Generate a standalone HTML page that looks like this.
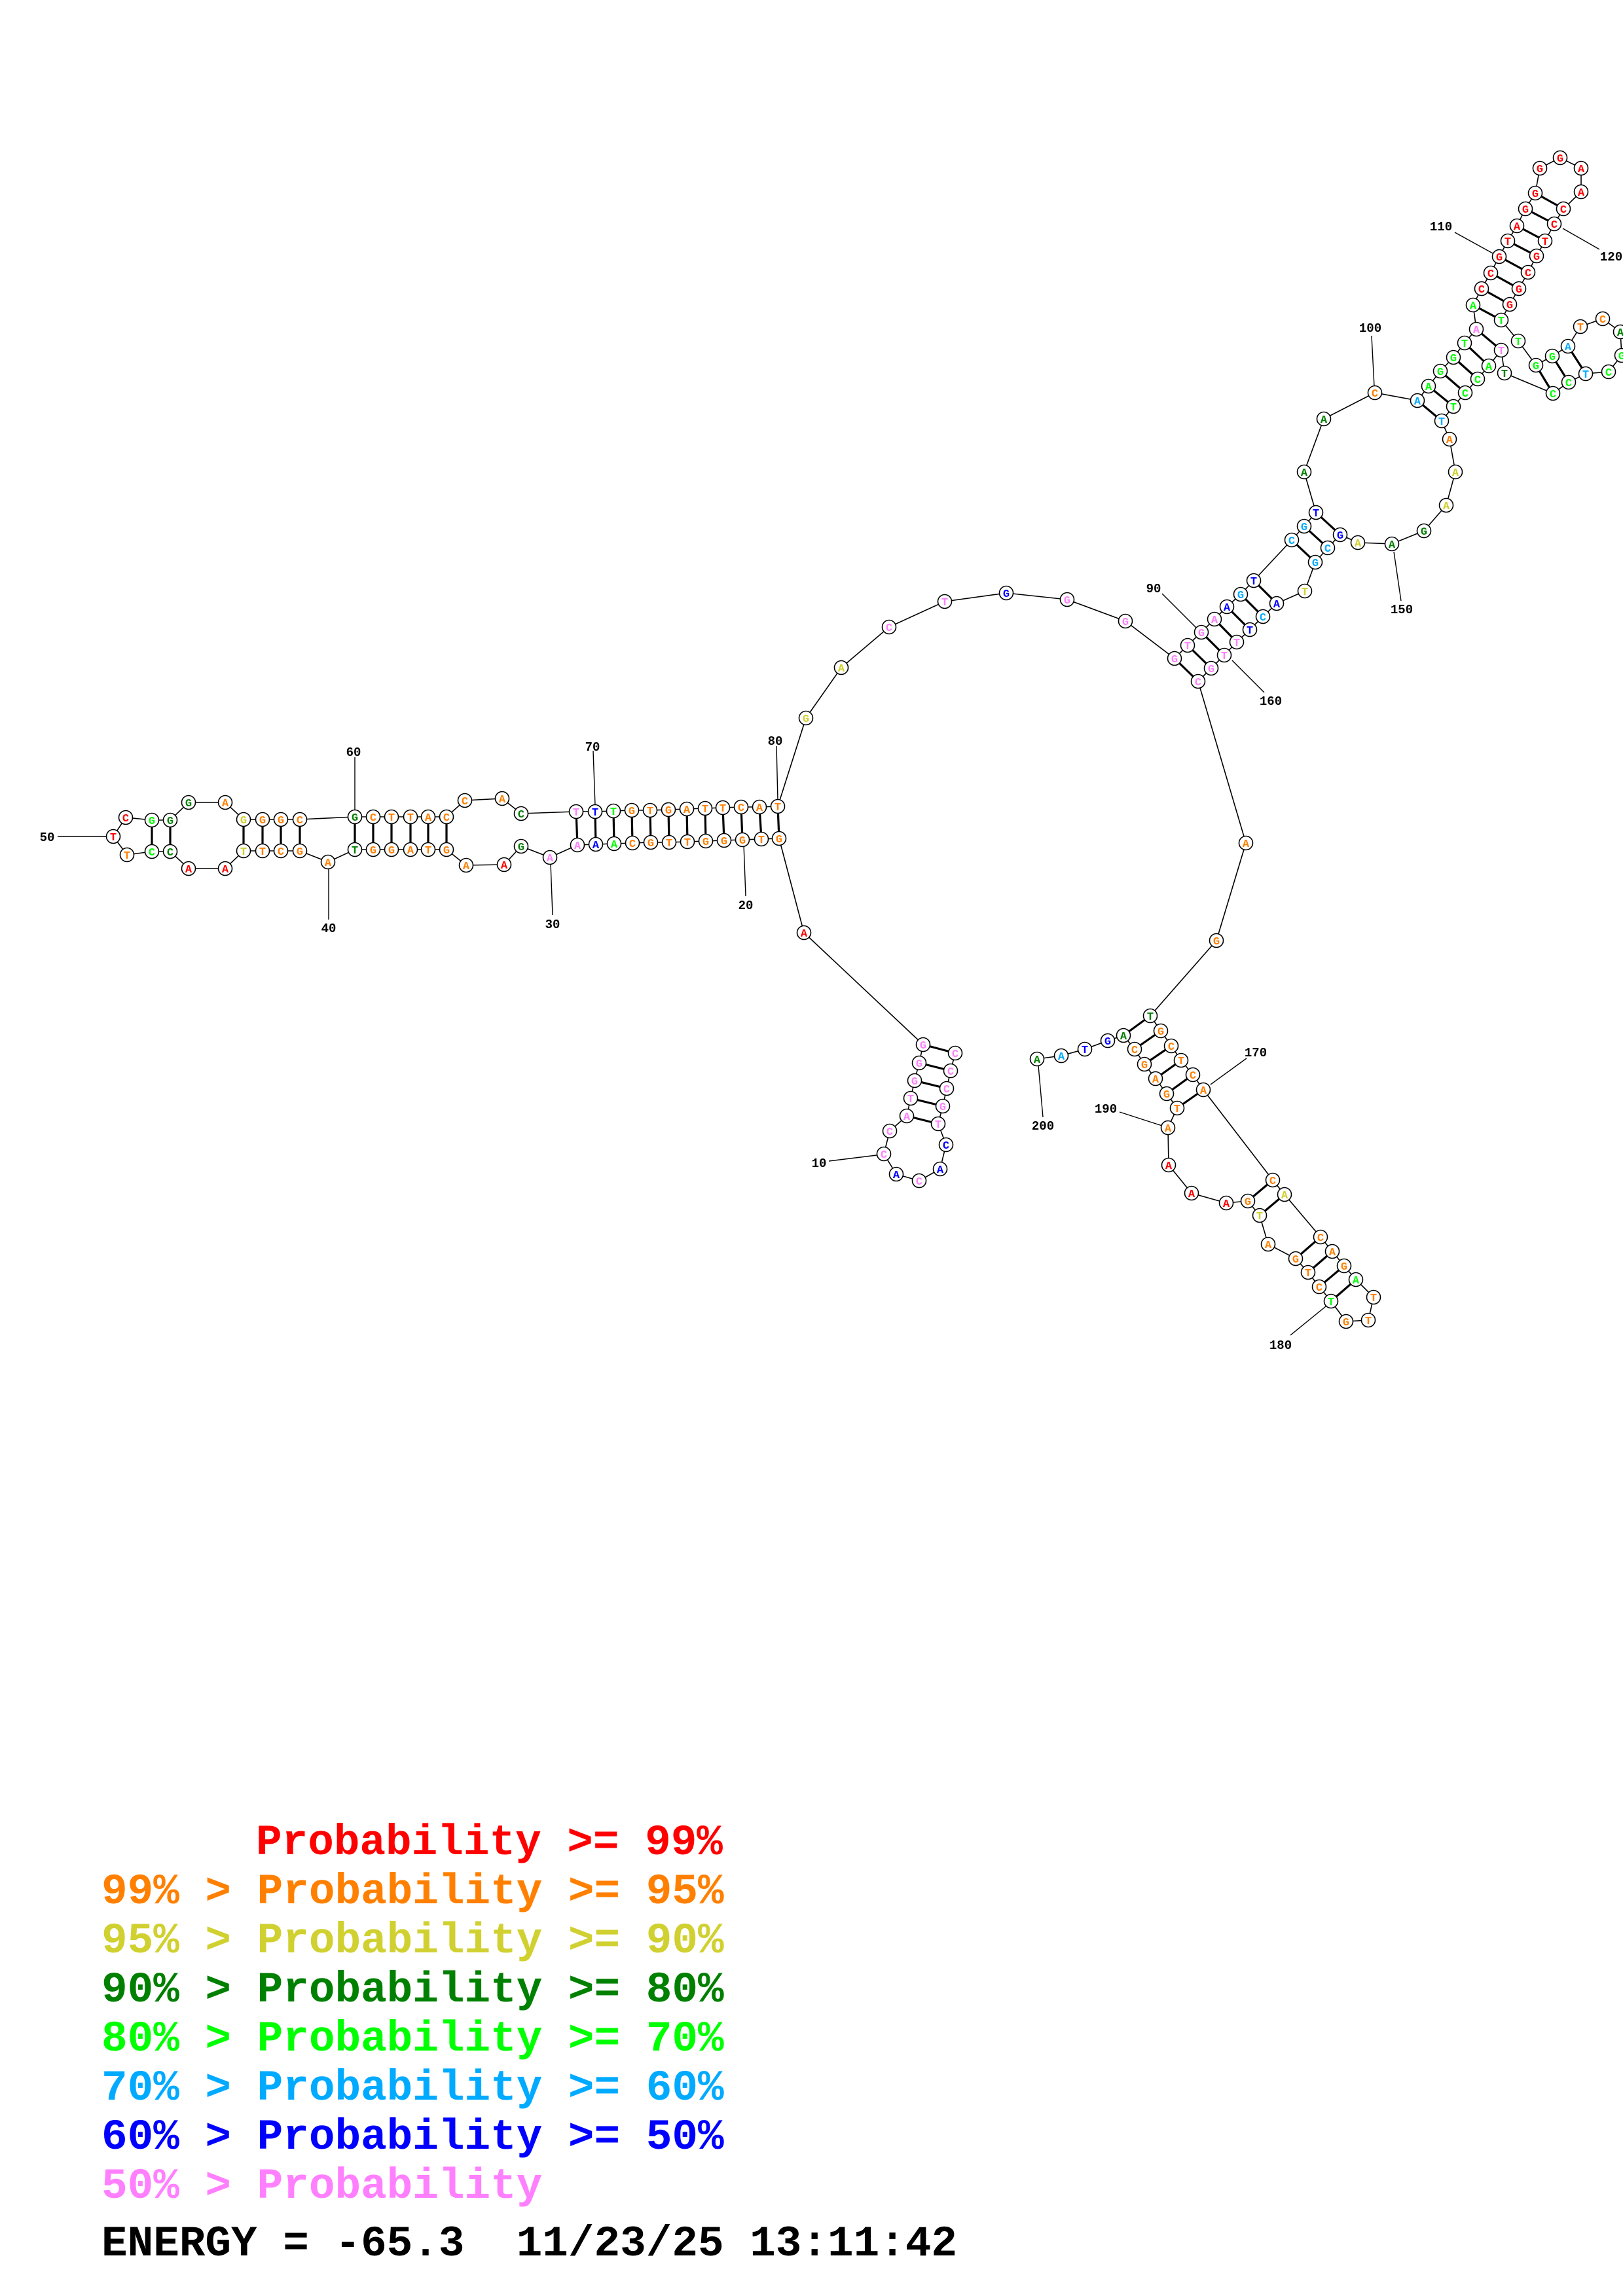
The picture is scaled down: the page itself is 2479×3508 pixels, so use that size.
<!DOCTYPE html>
<html><head><meta charset="utf-8"><style>
html,body{margin:0;padding:0;background:#fff}
svg{display:block}
.bb{fill:none;stroke:#000;stroke-width:1.6}
.pr{stroke:#000;stroke-width:3.2}
.lb{stroke:#000;stroke-width:1.4}
circle{fill:#fff;stroke:#000;stroke-width:1.6}
.n text{font-family:"Liberation Mono",monospace;font-weight:bold;font-size:17px;text-anchor:middle}
.num{font-family:"Liberation Mono",monospace;font-weight:bold;font-size:19px;text-anchor:middle;fill:#000}
.lg{font-family:"Liberation Mono",monospace;font-weight:bold;font-size:66px;white-space:pre}
.R{fill:#ff0000}.O{fill:#ff8000}.Y{fill:#d0d030}.D{fill:#008000}.G{fill:#00ff00}.S{fill:#00aaff}.B{fill:#0000ff}.P{fill:#ff80ff}.K{fill:#000}
</style></head><body>
<svg width="2479" height="3508" viewBox="0 0 2479 3508" xmlns="http://www.w3.org/2000/svg">
<polyline class="bb" points="1459,1609 1452,1636 1446,1663 1440,1690 1433,1717 1445,1749 1436,1786 1404,1804 1369,1794 1350,1763 1359,1728 1385,1705 1391,1678 1397,1651 1404,1624 1410,1596 1228,1425 1190,1281 1163,1282 1134,1283 1106,1284 1078,1285 1050,1286 1022,1287 994,1287 966,1288 938,1289 910,1290 882,1291 840,1310 796,1293 770,1321 712,1322 682,1298 654,1298 627,1298 598,1298 570,1298 542,1298 501,1317 458,1300 429,1300 401,1300 372,1300 344,1327 288,1327 260,1301 232,1301 194,1306 173,1278 192,1249 232,1253 260,1253 288,1226 344,1226 372,1252 401,1252 429,1252 458,1252 542,1248 570,1248 598,1248 627,1248 654,1248 682,1248 710,1223 767,1220 796,1243 880,1240 909,1240 937,1239 965,1238 993,1238 1021,1237 1049,1236 1077,1235 1104,1234 1132,1233 1160,1233 1188,1232 1231,1097 1285,1020 1358,958 1443,919 1537,906 1630,916 1719,949 1794,1006 1814,986 1835,966 1855,946 1874,927 1895,908 1915,887 1973,825 1992,804 2010,783 1992,721 2022,640 2100,600 2165,612 2182,590 2200,567 2220,546 2237,524 2255,503 2250,466 2263,441 2277,417 2290,392 2303,368 2317,345 2330,319 2345,295 2352,257 2383,241 2415,257 2415,293 2388,319 2374,342 2360,368 2347,391 2334,416 2320,441 2306,465 2293,489 2319,521 2346,558 2371,544 2395,529 2414,499 2448,487 2475,507 2477,543 2457,568 2422,571 2396,584 2372,601 2298,570 2293,535 2274,559 2257,579 2238,600 2220,621 2202,643 2214,671 2223,721 2209,772 2175,811 2126,831 2074,829 2047,817 2028,837 2009,859 1993,903 1950,922 1929,942 1909,962 1889,981 1870,1001 1850,1021 1830,1041 1903,1288 1858,1437 1757,1552 1773,1575 1789,1598 1804,1620 1822,1642 1838,1665 1944,1803 1962,1825 2017,1890 2035,1912 2053,1934 2071,1955 2098,1982 2090,2017 2056,2019 2033,1988 2015,1966 1998,1944 1979,1923 1937,1901 1924,1857 1906,1835 1873,1838 1820,1823 1785,1780 1784,1723 1798,1693 1782,1671 1765,1648 1748,1626 1733,1603 1716,1582 1692,1590 1657,1603 1621,1613 1584,1618"/>
<g class="pr">
<line x1="1410" y1="1596" x2="1459" y2="1609"/><line x1="1404" y1="1624" x2="1452" y2="1636"/><line x1="1397" y1="1651" x2="1446" y2="1663"/><line x1="1391" y1="1678" x2="1440" y2="1690"/><line x1="1385" y1="1705" x2="1433" y2="1717"/>
<line x1="232" y1="1253" x2="232" y2="1301"/><line x1="260" y1="1253" x2="260" y2="1301"/>
<line x1="372" y1="1252" x2="372" y2="1300"/><line x1="401" y1="1252" x2="401" y2="1300"/><line x1="429" y1="1252" x2="429" y2="1300"/><line x1="458" y1="1252" x2="458" y2="1300"/>
<line x1="542" y1="1248" x2="542" y2="1298"/><line x1="570" y1="1248" x2="570" y2="1298"/><line x1="598" y1="1248" x2="598" y2="1298"/><line x1="627" y1="1248" x2="627" y2="1298"/><line x1="654" y1="1248" x2="654" y2="1298"/><line x1="682" y1="1248" x2="682" y2="1298"/>
<line x1="880" y1="1240" x2="882" y2="1291"/><line x1="909" y1="1240" x2="910" y2="1290"/><line x1="937" y1="1239" x2="938" y2="1289"/><line x1="965" y1="1238" x2="966" y2="1288"/><line x1="993" y1="1238" x2="994" y2="1287"/><line x1="1021" y1="1237" x2="1022" y2="1287"/><line x1="1049" y1="1236" x2="1050" y2="1286"/><line x1="1077" y1="1235" x2="1078" y2="1285"/><line x1="1104" y1="1234" x2="1106" y2="1284"/><line x1="1132" y1="1233" x2="1134" y2="1283"/><line x1="1160" y1="1233" x2="1163" y2="1282"/><line x1="1188" y1="1232" x2="1190" y2="1281"/>
<line x1="1794" y1="1006" x2="1830" y2="1041"/><line x1="1814" y1="986" x2="1850" y2="1021"/><line x1="1835" y1="966" x2="1870" y2="1001"/><line x1="1855" y1="946" x2="1889" y2="981"/><line x1="1874" y1="927" x2="1909" y2="962"/><line x1="1895" y1="908" x2="1929" y2="942"/><line x1="1915" y1="887" x2="1950" y2="922"/>
<line x1="1973" y1="825" x2="2009" y2="859"/><line x1="1992" y1="804" x2="2028" y2="837"/><line x1="2010" y1="783" x2="2047" y2="817"/>
<line x1="2165" y1="612" x2="2202" y2="643"/><line x1="2182" y1="590" x2="2220" y2="621"/><line x1="2200" y1="567" x2="2238" y2="600"/><line x1="2220" y1="546" x2="2257" y2="579"/><line x1="2237" y1="524" x2="2274" y2="559"/><line x1="2255" y1="503" x2="2293" y2="535"/>
<line x1="2250" y1="466" x2="2293" y2="489"/><line x1="2263" y1="441" x2="2306" y2="465"/><line x1="2277" y1="417" x2="2320" y2="441"/><line x1="2290" y1="392" x2="2334" y2="416"/><line x1="2303" y1="368" x2="2347" y2="391"/><line x1="2317" y1="345" x2="2360" y2="368"/><line x1="2330" y1="319" x2="2374" y2="342"/><line x1="2345" y1="295" x2="2388" y2="319"/>
<line x1="2346" y1="558" x2="2372" y2="601"/><line x1="2371" y1="544" x2="2396" y2="584"/><line x1="2395" y1="529" x2="2422" y2="571"/>
<line x1="1757" y1="1552" x2="1716" y2="1582"/><line x1="1773" y1="1575" x2="1733" y2="1603"/><line x1="1789" y1="1598" x2="1748" y2="1626"/><line x1="1804" y1="1620" x2="1765" y2="1648"/><line x1="1822" y1="1642" x2="1782" y2="1671"/><line x1="1838" y1="1665" x2="1798" y2="1693"/>
<line x1="1944" y1="1803" x2="1906" y2="1835"/><line x1="1962" y1="1825" x2="1924" y2="1857"/>
<line x1="2017" y1="1890" x2="1979" y2="1923"/><line x1="2035" y1="1912" x2="1998" y2="1944"/><line x1="2053" y1="1934" x2="2015" y2="1966"/><line x1="2071" y1="1955" x2="2033" y2="1988"/>
</g>
<g class="lb">
<line x1="1266" y1="1774" x2="1339" y2="1765"/>
<line x1="1136" y1="1290" x2="1139" y2="1369"/>
<line x1="841" y1="1318" x2="844" y2="1398"/>
<line x1="502" y1="1327" x2="502" y2="1405"/>
<line x1="88" y1="1278" x2="162" y2="1278"/>
<line x1="542" y1="1157" x2="542" y2="1238"/>
<line x1="906" y1="1147" x2="909" y2="1230"/>
<line x1="1186" y1="1140" x2="1188" y2="1222"/>
<line x1="1775" y1="907" x2="1828" y2="960"/>
<line x1="2095" y1="513" x2="2099" y2="590"/>
<line x1="2222" y1="355" x2="2280" y2="387"/>
<line x1="2387" y1="349" x2="2443" y2="381"/>
<line x1="2129" y1="843" x2="2140" y2="918"/>
<line x1="1882" y1="1009" x2="1931" y2="1058"/>
<line x1="1849" y1="1657" x2="1904" y2="1617"/>
<line x1="1971" y1="2040" x2="2025" y2="1996"/>
<line x1="1710" y1="1699" x2="1775" y2="1720"/>
<line x1="1586" y1="1628" x2="1593" y2="1707"/>
</g>
<g>
<text class="num" x="1251" y="1783">10</text>
<text class="num" x="1139" y="1389">20</text>
<text class="num" x="844" y="1418">30</text>
<text class="num" x="502" y="1424">40</text>
<text class="num" x="72" y="1285">50</text>
<text class="num" x="540" y="1155">60</text>
<text class="num" x="905" y="1147">70</text>
<text class="num" x="1184" y="1138">80</text>
<text class="num" x="1762" y="905">90</text>
<text class="num" x="2093" y="507">100</text>
<text class="num" x="2201" y="352">110</text>
<text class="num" x="2461" y="398">120</text>
<text class="num" x="2141" y="937">150</text>
<text class="num" x="1941" y="1077">160</text>
<text class="num" x="1918" y="1614">170</text>
<text class="num" x="1956" y="2061">180</text>
<text class="num" x="1689" y="1700">190</text>
<text class="num" x="1593" y="1726">200</text>
</g>
<g class="n">
<circle cx="1459" cy="1609" r="10.5"/><text x="1459" y="1615" class="P">C</text>
<circle cx="1452" cy="1636" r="10.5"/><text x="1452" y="1642" class="P">C</text>
<circle cx="1446" cy="1663" r="10.5"/><text x="1446" y="1669" class="P">C</text>
<circle cx="1440" cy="1690" r="10.5"/><text x="1440" y="1696" class="P">G</text>
<circle cx="1433" cy="1717" r="10.5"/><text x="1433" y="1723" class="P">T</text>
<circle cx="1445" cy="1749" r="10.5"/><text x="1445" y="1755" class="B">C</text>
<circle cx="1436" cy="1786" r="10.5"/><text x="1436" y="1792" class="B">A</text>
<circle cx="1404" cy="1804" r="10.5"/><text x="1404" y="1810" class="P">C</text>
<circle cx="1369" cy="1794" r="10.5"/><text x="1369" y="1800" class="B">A</text>
<circle cx="1350" cy="1763" r="10.5"/><text x="1350" y="1769" class="P">C</text>
<circle cx="1359" cy="1728" r="10.5"/><text x="1359" y="1734" class="P">C</text>
<circle cx="1385" cy="1705" r="10.5"/><text x="1385" y="1711" class="P">A</text>
<circle cx="1391" cy="1678" r="10.5"/><text x="1391" y="1684" class="P">T</text>
<circle cx="1397" cy="1651" r="10.5"/><text x="1397" y="1657" class="P">G</text>
<circle cx="1404" cy="1624" r="10.5"/><text x="1404" y="1630" class="P">G</text>
<circle cx="1410" cy="1596" r="10.5"/><text x="1410" y="1602" class="P">G</text>
<circle cx="1228" cy="1425" r="10.5"/><text x="1228" y="1431" class="R">A</text>
<circle cx="1190" cy="1281" r="10.5"/><text x="1190" y="1287" class="O">G</text>
<circle cx="1163" cy="1282" r="10.5"/><text x="1163" y="1288" class="O">T</text>
<circle cx="1134" cy="1283" r="10.5"/><text x="1134" y="1289" class="O">G</text>
<circle cx="1106" cy="1284" r="10.5"/><text x="1106" y="1290" class="O">G</text>
<circle cx="1078" cy="1285" r="10.5"/><text x="1078" y="1291" class="O">G</text>
<circle cx="1050" cy="1286" r="10.5"/><text x="1050" y="1292" class="O">T</text>
<circle cx="1022" cy="1287" r="10.5"/><text x="1022" y="1293" class="O">T</text>
<circle cx="994" cy="1287" r="10.5"/><text x="994" y="1293" class="O">G</text>
<circle cx="966" cy="1288" r="10.5"/><text x="966" y="1294" class="O">C</text>
<circle cx="938" cy="1289" r="10.5"/><text x="938" y="1295" class="G">A</text>
<circle cx="910" cy="1290" r="10.5"/><text x="910" y="1296" class="B">A</text>
<circle cx="882" cy="1291" r="10.5"/><text x="882" y="1297" class="P">A</text>
<circle cx="840" cy="1310" r="10.5"/><text x="840" y="1316" class="P">A</text>
<circle cx="796" cy="1293" r="10.5"/><text x="796" y="1299" class="D">G</text>
<circle cx="770" cy="1321" r="10.5"/><text x="770" y="1327" class="R">A</text>
<circle cx="712" cy="1322" r="10.5"/><text x="712" y="1328" class="O">A</text>
<circle cx="682" cy="1298" r="10.5"/><text x="682" y="1304" class="O">G</text>
<circle cx="654" cy="1298" r="10.5"/><text x="654" y="1304" class="O">T</text>
<circle cx="627" cy="1298" r="10.5"/><text x="627" y="1304" class="O">A</text>
<circle cx="598" cy="1298" r="10.5"/><text x="598" y="1304" class="O">G</text>
<circle cx="570" cy="1298" r="10.5"/><text x="570" y="1304" class="O">G</text>
<circle cx="542" cy="1298" r="10.5"/><text x="542" y="1304" class="D">T</text>
<circle cx="501" cy="1317" r="10.5"/><text x="501" y="1323" class="O">A</text>
<circle cx="458" cy="1300" r="10.5"/><text x="458" y="1306" class="O">G</text>
<circle cx="429" cy="1300" r="10.5"/><text x="429" y="1306" class="O">C</text>
<circle cx="401" cy="1300" r="10.5"/><text x="401" y="1306" class="O">T</text>
<circle cx="372" cy="1300" r="10.5"/><text x="372" y="1306" class="Y">T</text>
<circle cx="344" cy="1327" r="10.5"/><text x="344" y="1333" class="R">A</text>
<circle cx="288" cy="1327" r="10.5"/><text x="288" y="1333" class="R">A</text>
<circle cx="260" cy="1301" r="10.5"/><text x="260" y="1307" class="D">C</text>
<circle cx="232" cy="1301" r="10.5"/><text x="232" y="1307" class="G">C</text>
<circle cx="194" cy="1306" r="10.5"/><text x="194" y="1312" class="O">T</text>
<circle cx="173" cy="1278" r="10.5"/><text x="173" y="1284" class="R">T</text>
<circle cx="192" cy="1249" r="10.5"/><text x="192" y="1255" class="R">C</text>
<circle cx="232" cy="1253" r="10.5"/><text x="232" y="1259" class="G">G</text>
<circle cx="260" cy="1253" r="10.5"/><text x="260" y="1259" class="D">G</text>
<circle cx="288" cy="1226" r="10.5"/><text x="288" y="1232" class="D">G</text>
<circle cx="344" cy="1226" r="10.5"/><text x="344" y="1232" class="O">A</text>
<circle cx="372" cy="1252" r="10.5"/><text x="372" y="1258" class="Y">G</text>
<circle cx="401" cy="1252" r="10.5"/><text x="401" y="1258" class="O">G</text>
<circle cx="429" cy="1252" r="10.5"/><text x="429" y="1258" class="O">G</text>
<circle cx="458" cy="1252" r="10.5"/><text x="458" y="1258" class="O">C</text>
<circle cx="542" cy="1248" r="10.5"/><text x="542" y="1254" class="D">G</text>
<circle cx="570" cy="1248" r="10.5"/><text x="570" y="1254" class="O">C</text>
<circle cx="598" cy="1248" r="10.5"/><text x="598" y="1254" class="O">T</text>
<circle cx="627" cy="1248" r="10.5"/><text x="627" y="1254" class="O">T</text>
<circle cx="654" cy="1248" r="10.5"/><text x="654" y="1254" class="O">A</text>
<circle cx="682" cy="1248" r="10.5"/><text x="682" y="1254" class="O">C</text>
<circle cx="710" cy="1223" r="10.5"/><text x="710" y="1229" class="O">C</text>
<circle cx="767" cy="1220" r="10.5"/><text x="767" y="1226" class="O">A</text>
<circle cx="796" cy="1243" r="10.5"/><text x="796" y="1249" class="D">C</text>
<circle cx="880" cy="1240" r="10.5"/><text x="880" y="1246" class="P">T</text>
<circle cx="909" cy="1240" r="10.5"/><text x="909" y="1246" class="B">T</text>
<circle cx="937" cy="1239" r="10.5"/><text x="937" y="1245" class="G">T</text>
<circle cx="965" cy="1238" r="10.5"/><text x="965" y="1244" class="O">G</text>
<circle cx="993" cy="1238" r="10.5"/><text x="993" y="1244" class="O">T</text>
<circle cx="1021" cy="1237" r="10.5"/><text x="1021" y="1243" class="O">G</text>
<circle cx="1049" cy="1236" r="10.5"/><text x="1049" y="1242" class="O">A</text>
<circle cx="1077" cy="1235" r="10.5"/><text x="1077" y="1241" class="O">T</text>
<circle cx="1104" cy="1234" r="10.5"/><text x="1104" y="1240" class="O">T</text>
<circle cx="1132" cy="1233" r="10.5"/><text x="1132" y="1239" class="O">C</text>
<circle cx="1160" cy="1233" r="10.5"/><text x="1160" y="1239" class="O">A</text>
<circle cx="1188" cy="1232" r="10.5"/><text x="1188" y="1238" class="O">T</text>
<circle cx="1231" cy="1097" r="10.5"/><text x="1231" y="1103" class="Y">G</text>
<circle cx="1285" cy="1020" r="10.5"/><text x="1285" y="1026" class="Y">A</text>
<circle cx="1358" cy="958" r="10.5"/><text x="1358" y="964" class="P">C</text>
<circle cx="1443" cy="919" r="10.5"/><text x="1443" y="925" class="P">T</text>
<circle cx="1537" cy="906" r="10.5"/><text x="1537" y="912" class="B">G</text>
<circle cx="1630" cy="916" r="10.5"/><text x="1630" y="922" class="P">G</text>
<circle cx="1719" cy="949" r="10.5"/><text x="1719" y="955" class="P">G</text>
<circle cx="1794" cy="1006" r="10.5"/><text x="1794" y="1012" class="P">G</text>
<circle cx="1814" cy="986" r="10.5"/><text x="1814" y="992" class="P">T</text>
<circle cx="1835" cy="966" r="10.5"/><text x="1835" y="972" class="P">G</text>
<circle cx="1855" cy="946" r="10.5"/><text x="1855" y="952" class="P">A</text>
<circle cx="1874" cy="927" r="10.5"/><text x="1874" y="933" class="B">A</text>
<circle cx="1895" cy="908" r="10.5"/><text x="1895" y="914" class="S">G</text>
<circle cx="1915" cy="887" r="10.5"/><text x="1915" y="893" class="B">T</text>
<circle cx="1973" cy="825" r="10.5"/><text x="1973" y="831" class="S">C</text>
<circle cx="1992" cy="804" r="10.5"/><text x="1992" y="810" class="S">G</text>
<circle cx="2010" cy="783" r="10.5"/><text x="2010" y="789" class="B">T</text>
<circle cx="1992" cy="721" r="10.5"/><text x="1992" y="727" class="D">A</text>
<circle cx="2022" cy="640" r="10.5"/><text x="2022" y="646" class="D">A</text>
<circle cx="2100" cy="600" r="10.5"/><text x="2100" y="606" class="O">C</text>
<circle cx="2165" cy="612" r="10.5"/><text x="2165" y="618" class="S">A</text>
<circle cx="2182" cy="590" r="10.5"/><text x="2182" y="596" class="G">A</text>
<circle cx="2200" cy="567" r="10.5"/><text x="2200" y="573" class="G">G</text>
<circle cx="2220" cy="546" r="10.5"/><text x="2220" y="552" class="G">G</text>
<circle cx="2237" cy="524" r="10.5"/><text x="2237" y="530" class="G">T</text>
<circle cx="2255" cy="503" r="10.5"/><text x="2255" y="509" class="P">A</text>
<circle cx="2250" cy="466" r="10.5"/><text x="2250" y="472" class="G">A</text>
<circle cx="2263" cy="441" r="10.5"/><text x="2263" y="447" class="R">C</text>
<circle cx="2277" cy="417" r="10.5"/><text x="2277" y="423" class="R">C</text>
<circle cx="2290" cy="392" r="10.5"/><text x="2290" y="398" class="R">G</text>
<circle cx="2303" cy="368" r="10.5"/><text x="2303" y="374" class="R">T</text>
<circle cx="2317" cy="345" r="10.5"/><text x="2317" y="351" class="R">A</text>
<circle cx="2330" cy="319" r="10.5"/><text x="2330" y="325" class="R">G</text>
<circle cx="2345" cy="295" r="10.5"/><text x="2345" y="301" class="R">G</text>
<circle cx="2352" cy="257" r="10.5"/><text x="2352" y="263" class="R">G</text>
<circle cx="2383" cy="241" r="10.5"/><text x="2383" y="247" class="R">G</text>
<circle cx="2415" cy="257" r="10.5"/><text x="2415" y="263" class="R">A</text>
<circle cx="2415" cy="293" r="10.5"/><text x="2415" y="299" class="R">A</text>
<circle cx="2388" cy="319" r="10.5"/><text x="2388" y="325" class="R">C</text>
<circle cx="2374" cy="342" r="10.5"/><text x="2374" y="348" class="R">C</text>
<circle cx="2360" cy="368" r="10.5"/><text x="2360" y="374" class="R">T</text>
<circle cx="2347" cy="391" r="10.5"/><text x="2347" y="397" class="R">G</text>
<circle cx="2334" cy="416" r="10.5"/><text x="2334" y="422" class="R">C</text>
<circle cx="2320" cy="441" r="10.5"/><text x="2320" y="447" class="R">G</text>
<circle cx="2306" cy="465" r="10.5"/><text x="2306" y="471" class="R">G</text>
<circle cx="2293" cy="489" r="10.5"/><text x="2293" y="495" class="G">T</text>
<circle cx="2319" cy="521" r="10.5"/><text x="2319" y="527" class="G">T</text>
<circle cx="2346" cy="558" r="10.5"/><text x="2346" y="564" class="G">G</text>
<circle cx="2371" cy="544" r="10.5"/><text x="2371" y="550" class="G">G</text>
<circle cx="2395" cy="529" r="10.5"/><text x="2395" y="535" class="S">A</text>
<circle cx="2414" cy="499" r="10.5"/><text x="2414" y="505" class="O">T</text>
<circle cx="2448" cy="487" r="10.5"/><text x="2448" y="493" class="O">C</text>
<circle cx="2475" cy="507" r="10.5"/><text x="2475" y="513" class="D">A</text>
<circle cx="2477" cy="543" r="10.5"/><text x="2477" y="549" class="G">G</text>
<circle cx="2457" cy="568" r="10.5"/><text x="2457" y="574" class="G">C</text>
<circle cx="2422" cy="571" r="10.5"/><text x="2422" y="577" class="S">T</text>
<circle cx="2396" cy="584" r="10.5"/><text x="2396" y="590" class="G">C</text>
<circle cx="2372" cy="601" r="10.5"/><text x="2372" y="607" class="G">C</text>
<circle cx="2298" cy="570" r="10.5"/><text x="2298" y="576" class="D">T</text>
<circle cx="2293" cy="535" r="10.5"/><text x="2293" y="541" class="P">T</text>
<circle cx="2274" cy="559" r="10.5"/><text x="2274" y="565" class="G">A</text>
<circle cx="2257" cy="579" r="10.5"/><text x="2257" y="585" class="G">C</text>
<circle cx="2238" cy="600" r="10.5"/><text x="2238" y="606" class="G">C</text>
<circle cx="2220" cy="621" r="10.5"/><text x="2220" y="627" class="G">T</text>
<circle cx="2202" cy="643" r="10.5"/><text x="2202" y="649" class="S">T</text>
<circle cx="2214" cy="671" r="10.5"/><text x="2214" y="677" class="O">A</text>
<circle cx="2223" cy="721" r="10.5"/><text x="2223" y="727" class="Y">A</text>
<circle cx="2209" cy="772" r="10.5"/><text x="2209" y="778" class="Y">A</text>
<circle cx="2175" cy="811" r="10.5"/><text x="2175" y="817" class="D">G</text>
<circle cx="2126" cy="831" r="10.5"/><text x="2126" y="837" class="D">A</text>
<circle cx="2074" cy="829" r="10.5"/><text x="2074" y="835" class="Y">A</text>
<circle cx="2047" cy="817" r="10.5"/><text x="2047" y="823" class="B">G</text>
<circle cx="2028" cy="837" r="10.5"/><text x="2028" y="843" class="S">C</text>
<circle cx="2009" cy="859" r="10.5"/><text x="2009" y="865" class="S">G</text>
<circle cx="1993" cy="903" r="10.5"/><text x="1993" y="909" class="Y">T</text>
<circle cx="1950" cy="922" r="10.5"/><text x="1950" y="928" class="B">A</text>
<circle cx="1929" cy="942" r="10.5"/><text x="1929" y="948" class="S">C</text>
<circle cx="1909" cy="962" r="10.5"/><text x="1909" y="968" class="B">T</text>
<circle cx="1889" cy="981" r="10.5"/><text x="1889" y="987" class="P">T</text>
<circle cx="1870" cy="1001" r="10.5"/><text x="1870" y="1007" class="P">T</text>
<circle cx="1850" cy="1021" r="10.5"/><text x="1850" y="1027" class="P">G</text>
<circle cx="1830" cy="1041" r="10.5"/><text x="1830" y="1047" class="P">C</text>
<circle cx="1903" cy="1288" r="10.5"/><text x="1903" y="1294" class="O">A</text>
<circle cx="1858" cy="1437" r="10.5"/><text x="1858" y="1443" class="O">G</text>
<circle cx="1757" cy="1552" r="10.5"/><text x="1757" y="1558" class="D">T</text>
<circle cx="1773" cy="1575" r="10.5"/><text x="1773" y="1581" class="O">G</text>
<circle cx="1789" cy="1598" r="10.5"/><text x="1789" y="1604" class="O">C</text>
<circle cx="1804" cy="1620" r="10.5"/><text x="1804" y="1626" class="O">T</text>
<circle cx="1822" cy="1642" r="10.5"/><text x="1822" y="1648" class="O">C</text>
<circle cx="1838" cy="1665" r="10.5"/><text x="1838" y="1671" class="O">A</text>
<circle cx="1944" cy="1803" r="10.5"/><text x="1944" y="1809" class="O">C</text>
<circle cx="1962" cy="1825" r="10.5"/><text x="1962" y="1831" class="Y">A</text>
<circle cx="2017" cy="1890" r="10.5"/><text x="2017" y="1896" class="O">C</text>
<circle cx="2035" cy="1912" r="10.5"/><text x="2035" y="1918" class="O">A</text>
<circle cx="2053" cy="1934" r="10.5"/><text x="2053" y="1940" class="O">G</text>
<circle cx="2071" cy="1955" r="10.5"/><text x="2071" y="1961" class="G">A</text>
<circle cx="2098" cy="1982" r="10.5"/><text x="2098" y="1988" class="O">T</text>
<circle cx="2090" cy="2017" r="10.5"/><text x="2090" y="2023" class="O">T</text>
<circle cx="2056" cy="2019" r="10.5"/><text x="2056" y="2025" class="O">G</text>
<circle cx="2033" cy="1988" r="10.5"/><text x="2033" y="1994" class="G">T</text>
<circle cx="2015" cy="1966" r="10.5"/><text x="2015" y="1972" class="O">C</text>
<circle cx="1998" cy="1944" r="10.5"/><text x="1998" y="1950" class="O">T</text>
<circle cx="1979" cy="1923" r="10.5"/><text x="1979" y="1929" class="O">G</text>
<circle cx="1937" cy="1901" r="10.5"/><text x="1937" y="1907" class="O">A</text>
<circle cx="1924" cy="1857" r="10.5"/><text x="1924" y="1863" class="Y">T</text>
<circle cx="1906" cy="1835" r="10.5"/><text x="1906" y="1841" class="O">G</text>
<circle cx="1873" cy="1838" r="10.5"/><text x="1873" y="1844" class="R">A</text>
<circle cx="1820" cy="1823" r="10.5"/><text x="1820" y="1829" class="R">A</text>
<circle cx="1785" cy="1780" r="10.5"/><text x="1785" y="1786" class="R">A</text>
<circle cx="1784" cy="1723" r="10.5"/><text x="1784" y="1729" class="O">A</text>
<circle cx="1798" cy="1693" r="10.5"/><text x="1798" y="1699" class="O">T</text>
<circle cx="1782" cy="1671" r="10.5"/><text x="1782" y="1677" class="O">G</text>
<circle cx="1765" cy="1648" r="10.5"/><text x="1765" y="1654" class="O">A</text>
<circle cx="1748" cy="1626" r="10.5"/><text x="1748" y="1632" class="O">G</text>
<circle cx="1733" cy="1603" r="10.5"/><text x="1733" y="1609" class="O">C</text>
<circle cx="1716" cy="1582" r="10.5"/><text x="1716" y="1588" class="D">A</text>
<circle cx="1692" cy="1590" r="10.5"/><text x="1692" y="1596" class="B">G</text>
<circle cx="1657" cy="1603" r="10.5"/><text x="1657" y="1609" class="B">T</text>
<circle cx="1621" cy="1613" r="10.5"/><text x="1621" y="1619" class="S">A</text>
<circle cx="1584" cy="1618" r="10.5"/><text x="1584" y="1624" class="D">A</text>
</g>
<g class="lg">
<text x="391" y="2833" class="R">Probability &gt;= 99%</text>
<text x="155" y="2908" class="O">99% &gt; Probability &gt;= 95%</text>
<text x="155" y="2983" class="Y">95% &gt; Probability &gt;= 90%</text>
<text x="155" y="3058" class="D">90% &gt; Probability &gt;= 80%</text>
<text x="155" y="3133" class="G">80% &gt; Probability &gt;= 70%</text>
<text x="155" y="3208" class="S">70% &gt; Probability &gt;= 60%</text>
<text x="155" y="3283" class="B">60% &gt; Probability &gt;= 50%</text>
<text x="155" y="3358" class="P">50% &gt; Probability</text>
<text x="155" y="3446" class="K" xml:space="preserve">ENERGY = -65.3  11/23/25 13:11:42</text>
</g>
</svg>
</body></html>
